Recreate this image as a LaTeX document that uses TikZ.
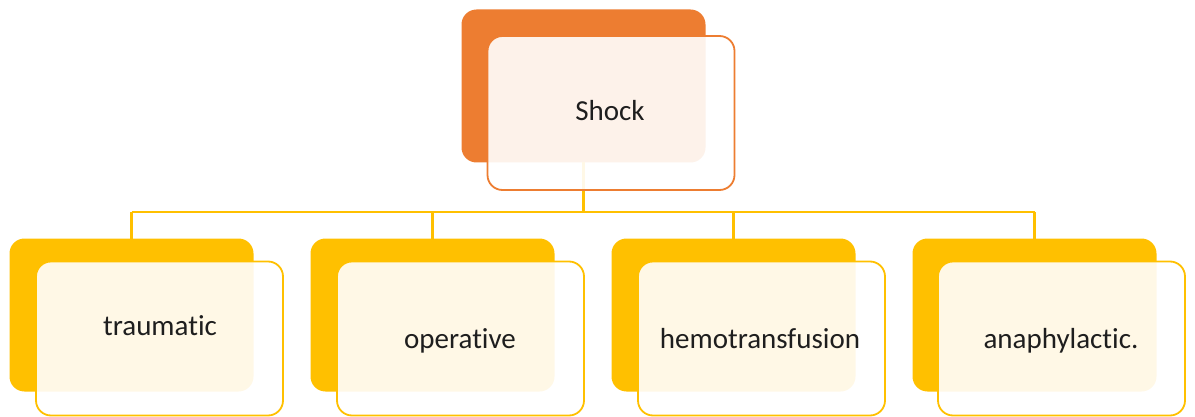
\documentclass[tikz,border=0pt]{standalone}
\usepackage{fontspec}
\setmainfont{Carlito}[Ligatures={NoCommon,NoContextual}]
\definecolor{shockorange}{HTML}{ED7D31}
\definecolor{kindyellow}{HTML}{FFC000}
\definecolor{labelgray}{HTML}{1E1E1E}
\begin{document}
\begin{tikzpicture}[x=1pt,y=-1pt,
  backbox/.style={fill=#1, rounded corners=15pt, inner sep=0pt, outer sep=0pt,
    minimum width=244pt, minimum height=153pt},
  frontbox/.style={draw=#1, line width=1.8pt, fill=white, fill opacity=0.9,
    rounded corners=15pt, inner sep=0pt, outer sep=0pt,
    minimum width=247pt, minimum height=154pt},
  branch/.style={draw=kindyellow, line width=2.3pt},
  label/.style={font=\fontsize{29}{32}\selectfont, text=labelgray, anchor=base, inner sep=0pt}]
\useasboundingbox (0,0) rectangle (1195,417);

% back plates
\node[backbox=shockorange] (pback) at (583.5,86) {};
\node[backbox=kindyellow] (b1) at (131.5,315) {};
\node[backbox=kindyellow] (b2) at (432.5,315) {};
\node[backbox=kindyellow] (b3) at (733.5,315) {};
\node[backbox=kindyellow] (b4) at (1034.5,315) {};

% tree connectors
\coordinate (bus) at (583.5,212);
\draw[branch] (pback.south) -- (bus);
\draw[branch] (b1.north |- bus) -- (b4.north |- bus);
\foreach \k in {1,...,4}{
  \draw[branch] (b\k.north |- bus) -- (b\k.north);
}

% front cards
\node[frontbox=shockorange] (pfront) at (611,113) {};
\node[frontbox=kindyellow] (f1) at (159.5,338.5) {};
\node[frontbox=kindyellow] (f2) at (460.5,338.5) {};
\node[frontbox=kindyellow] (f3) at (761.5,338.5) {};
\node[frontbox=kindyellow] (f4) at (1061.5,338.5) {};

% labels
\node[label] (tshock) at (610,121) {Shock};
\node[label] (t1) at (160,335) {traumatic};
\node[label] (t2) at (460,348) {operative};
\node[label] (t3) at (760,348) {hemotransfusion};
\node[label] (t4) at (1061,348) {anaphylactic.};
\end{tikzpicture}
\end{document}
